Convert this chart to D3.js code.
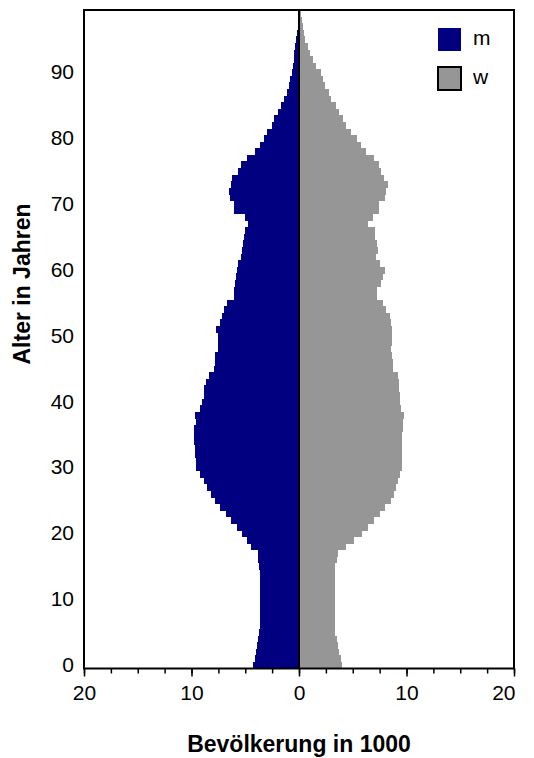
<!DOCTYPE html>
<html>
<head>
<meta charset="utf-8">
<script src="https://cdn.jsdelivr.net/npm/d3@7"></script>
<style>
  html, body { margin: 0; padding: 0; background: #fff; }
  svg { display: block; }
  text { font-family: "Liberation Sans", Arial, sans-serif; fill: #000; }
</style>
</head>
<body>
<svg id="chart" width="534" height="758"></svg>
<script>
// Ages 0..99
const ages = d3.range(0, 100);
// Males (thousands), index = age
const male = [
  4.25, 4.12, 4.00, 3.90, 3.78, 3.69, 3.62, 3.60, 3.60, 3.60,
  3.60, 3.60, 3.60, 3.62, 3.63, 3.69, 3.78, 3.84, 4.43, 4.84,
  5.30, 5.77, 6.33, 6.79, 7.35, 7.78, 8.19, 8.53, 8.81, 9.21,
  9.58, 9.58, 9.64, 9.64, 9.74, 9.74, 9.74, 9.55, 9.64, 9.24,
  8.99, 8.87, 8.87, 8.62, 8.34, 7.90, 7.78, 7.78, 7.50, 7.50,
  7.50, 7.69, 7.32, 7.13, 7.01, 6.73, 6.08, 6.02, 5.95, 5.89,
  5.80, 5.71, 5.43, 5.27, 5.21, 5.12, 4.99, 4.71, 4.99, 6.02,
  6.02, 6.39, 6.48, 6.29, 6.20, 5.70, 5.36, 4.81, 4.12, 3.60,
  3.30, 2.95, 2.55, 2.29, 2.00, 1.70, 1.35, 1.12, 0.92, 0.80,
  0.68, 0.59, 0.50, 0.43, 0.34, 0.25, 0.19, 0.12, 0.06, 0.03
];
// Females (thousands), index = age
const female = [
  4.00, 3.88, 3.75, 3.63, 3.50, 3.38, 3.33, 3.33, 3.33, 3.33,
  3.33, 3.33, 3.33, 3.33, 3.32, 3.38, 3.55, 3.63, 4.37, 5.15,
  5.89, 6.45, 7.01, 7.57, 8.03, 8.59, 8.87, 9.05, 9.24, 9.43,
  9.61, 9.61, 9.61, 9.61, 9.61, 9.61, 9.67, 9.67, 9.80, 9.49,
  9.43, 9.43, 9.30, 9.30, 9.18, 8.74, 8.74, 8.65, 8.59, 8.68,
  8.68, 8.68, 8.59, 8.47, 8.09, 7.81, 7.29, 7.29, 7.66, 7.81,
  8.00, 7.57, 7.13, 7.35, 7.26, 7.07, 7.07, 6.42, 6.92, 7.44,
  7.44, 8.00, 8.09, 8.28, 7.91, 7.66, 7.44, 6.98, 6.23, 5.77,
  5.40, 4.84, 4.35, 4.05, 3.75, 3.40, 3.00, 2.75, 2.45, 2.20,
  2.00, 1.60, 1.30, 1.05, 0.80, 0.60, 0.50, 0.38, 0.25, 0.15
];
const yTickValues = [0, 10, 20, 30, 40, 50, 60, 70, 80, 90];
const xMajorTicks = [-20, -10, 0, 10, 20];
const xMinorTicks = d3.range(-20, 20.01, 2.5);
const seriesNames = ["m", "w"];
const seriesColors = ["#000080", "#969696"];

const svg = d3.select("#chart");
const pL = 84, pR = 514, pT = 10, pB = 668.5;

const x = d3.scaleLinear().domain([-20, 20]).range([pL, pR]);
const y = d3.scaleBand().domain(ages).range([pB, pT]).padding(0);

// bars
svg.append("g").selectAll("rect").data(ages).join("rect")
  .attr("x", d => x(-male[d]))
  .attr("y", d => y(d))
  .attr("width", d => x(0) - x(-male[d]))
  .attr("height", y.bandwidth() + 0.3)
  .attr("fill", seriesColors[0])
  .attr("shape-rendering", "crispEdges");

svg.append("g").selectAll("rect").data(ages).join("rect")
  .attr("x", x(0))
  .attr("y", d => y(d))
  .attr("width", d => x(female[d]) - x(0))
  .attr("height", y.bandwidth() + 0.3)
  .attr("fill", seriesColors[1])
  .attr("shape-rendering", "crispEdges");

// zero line
svg.append("line")
  .attr("x1", x(0)).attr("x2", x(0))
  .attr("y1", pT).attr("y2", pB)
  .attr("stroke", "#000").attr("stroke-width", 2);

// plot frame
svg.append("rect")
  .attr("x", pL).attr("y", pT)
  .attr("width", pR - pL).attr("height", pB - pT)
  .attr("fill", "none").attr("stroke", "#000").attr("stroke-width", 2);

// x axis minor ticks
const gMinor = svg.append("g").attr("transform", `translate(0,${pB})`)
  .call(d3.axisBottom(x).tickValues(xMinorTicks).tickSize(5).tickFormat(""));
gMinor.select(".domain").remove();
gMinor.selectAll("line").attr("stroke", "#000").attr("stroke-width", 1.5);

// x axis major ticks + labels
const gMajor = svg.append("g").attr("transform", `translate(0,${pB})`)
  .call(d3.axisBottom(x).tickValues(xMajorTicks).tickSize(8).tickPadding(9)
    .tickFormat(d => Math.abs(d)));
gMajor.select(".domain").remove();
gMajor.selectAll("line").attr("stroke", "#000").attr("stroke-width", 1.5);
gMajor.selectAll("text")
  .style("font-family", "'Liberation Sans', Arial, sans-serif")
  .style("font-size", "21px").attr("fill", "#000");
// last label kept inside the chart, as in the reference
gMajor.selectAll("text").filter(d => d === 20)
  .attr("text-anchor", "end").attr("x", 1);

// y axis labels
const gY = svg.append("g").attr("transform", `translate(${pL},0)`)
  .call(d3.axisLeft(y).tickValues(yTickValues).tickSize(0).tickPadding(10));
gY.select(".domain").remove();
gY.selectAll("text")
  .style("font-family", "'Liberation Sans', Arial, sans-serif")
  .style("font-size", "21px").attr("fill", "#000");

// axis titles
svg.append("text")
  .attr("x", x(0)).attr("y", 752)
  .attr("text-anchor", "middle")
  .style("font-size", "23px").style("font-weight", "bold")
  .text("Bevölkerung in 1000");

svg.append("text")
  .attr("transform", `translate(30,284) rotate(-90)`)
  .attr("text-anchor", "middle")
  .style("font-size", "23px").style("font-weight", "bold")
  .text("Alter in Jahren");

// legend
const leg = svg.append("g").attr("transform", "translate(438,28)");
seriesNames.forEach((name, i) => {
  const g = leg.append("g").attr("transform", `translate(0,${i * 39})`);
  g.append("rect").attr("width", 23).attr("height", 23)
    .attr("fill", seriesColors[i])
    .attr("stroke", i === 1 ? "#000" : "none").attr("stroke-width", 2);
  g.append("text").attr("x", 35).attr("y", 17)
    .style("font-size", "21px").text(name);
});
</script>
</body>
</html>
